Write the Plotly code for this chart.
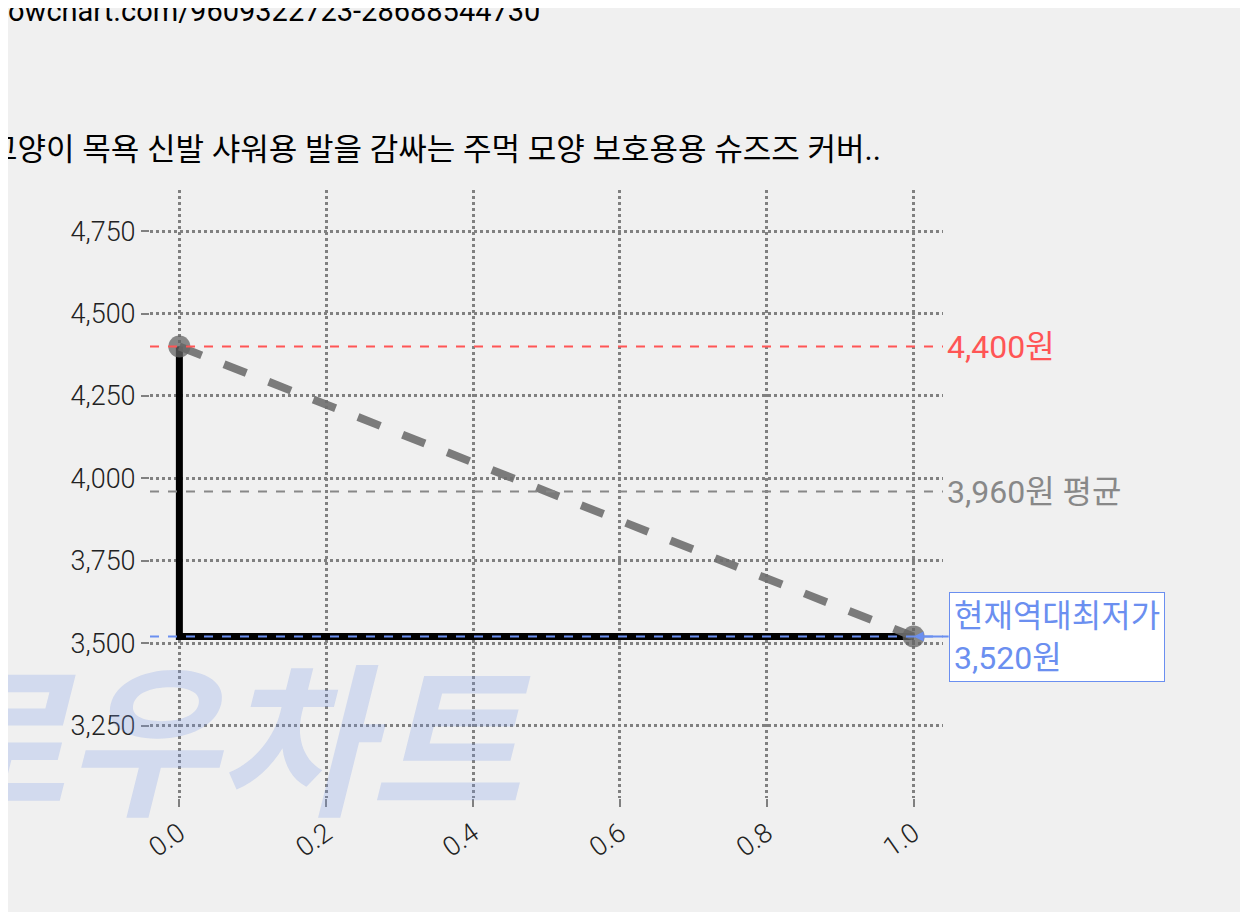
import plotly.graph_objects as go

# price history
x_vals = [0.0, 1.0]
prices = [4400, 3520]
max_price = 4400
avg_price = 3960
min_price = 3520
title = "고양이 목욕 신발 샤워용 발을 감싸는 주먹 모양 보호용용 슈즈즈 커버.."
url_text = "lowchart.com/9609322723-28688544730"

FONT = "Roboto, Noto Sans CJK KR"

fig = go.Figure()

# watermark
fig.add_annotation(text="<b><i>로우차트</i></b>", xref="paper", yref="paper", x=-0.30, y=0.11,
                   xanchor="left", yanchor="middle", showarrow=False,
                   font=dict(size=165, color="rgba(120,150,230,0.25)", family="Noto Sans CJK KR"))

# step line (black)
fig.add_trace(go.Scatter(x=[x_vals[0], x_vals[0], x_vals[1]], y=[prices[0], prices[1], prices[1]],
                         mode="lines", line=dict(color="black", width=7), showlegend=False))
# trend line (gray dashed)
fig.add_trace(go.Scatter(x=x_vals, y=prices, mode="lines+markers",
                         line=dict(color="rgba(110,110,110,0.9)", width=8, dash="dash"),
                         marker=dict(size=22, color="rgba(100,100,100,0.75)"), showlegend=False))

fig.add_hline(y=max_price, line=dict(color="#ff5555", width=2, dash="dash"))
fig.add_hline(y=avg_price, line=dict(color="#888888", width=2, dash="dash"))
fig.add_hline(y=min_price, line=dict(color="#6b8ff0", width=2, dash="dash"))

fig.add_annotation(text=f"{max_price:,}원", xref="paper", yref="y", x=1.003, y=max_price,
                   xanchor="left", showarrow=False, font=dict(size=32, color="#ff5555", family=FONT))
fig.add_annotation(text=f"{avg_price:,}원 평균", xref="paper", yref="y", x=1.003, y=avg_price,
                   xanchor="left", showarrow=False, font=dict(size=32, color="#888888", family=FONT))
fig.add_annotation(text=f"현재역대최저가<br>{min_price:,}원", x=x_vals[1], y=min_price,
                   ax=35, ay=0, xanchor="left", align="left", showarrow=True, arrowhead=2,
                   arrowcolor="#6b8ff0", arrowwidth=2, bgcolor="white", bordercolor="#6b8ff0",
                   borderwidth=1, borderpad=4, font=dict(size=32, color="#6b8ff0", family=FONT))

fig.add_annotation(text=url_text, xref="paper", yref="paper", x=-0.19, y=1.325, xanchor="left",
                   showarrow=False, font=dict(size=29, color="black", family=FONT))
fig.add_annotation(text=title, xref="paper", yref="paper", x=-0.205, y=1.1, xanchor="left",
                   showarrow=False, font=dict(size=31, color="black", family=FONT))

grid = dict(showgrid=True, gridcolor="#808080", griddash="dot", gridwidth=3, zeroline=False,
            showline=False, ticks="outside", ticklen=8, tickcolor="#808080", tickwidth=2)
fig.update_xaxes(range=[-0.04, 1.04], tickvals=[0, 0.2, 0.4, 0.6, 0.8, 1.0],
                 ticktext=["0.0", "0.2", "0.4", "0.6", "0.8", "1.0"], tickangle=-35, **grid)
fig.update_yaxes(range=[3030, 4875], tickvals=[3250, 3500, 3750, 4000, 4250, 4500, 4750],
                 tickformat=",", **grid)
fig.update_layout(width=1248, height=912, paper_bgcolor="#f0f0f0", plot_bgcolor="#f0f0f0",
                  margin=dict(l=142, r=313, t=182, b=122),
                  font=dict(family="Roboto Light, Roboto, Noto Sans CJK KR", size=27, color="#222"))

fig.write_html("out.html")
